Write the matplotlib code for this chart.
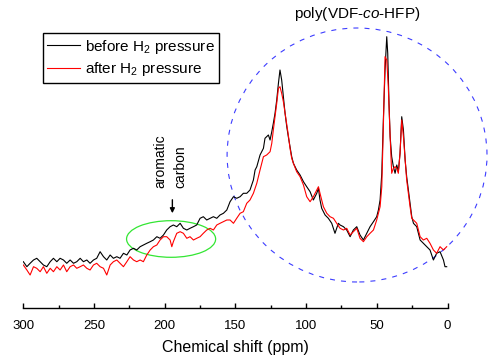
import matplotlib
matplotlib.use("Agg")
from matplotlib import pyplot as plt
from matplotlib import ticker as mticker
from matplotlib.patches import Ellipse

plt.rcParams["font.family"] = ["Liberation Sans", "DejaVu Sans"]
plt.rcParams["mathtext.fontset"] = "custom"
plt.rcParams["mathtext.rm"] = "Liberation Sans"
plt.rcParams["mathtext.it"] = "Liberation Sans:italic"

# before H2 pressure (black)
ppm_before = [
    300.0, 297.5, 295.2, 292.8, 290.5, 288.1, 285.8, 283.4, 281.0, 278.7,
    276.3, 274.0, 271.6, 269.3, 266.9, 264.5, 262.2, 259.8, 257.5, 255.1,
    252.8, 250.4, 248.1, 245.7, 243.3, 241.0, 238.6, 236.3, 233.9, 231.6,
    229.2, 226.8, 224.5, 222.1, 219.8, 217.4, 215.1, 212.7, 210.3, 208.0,
    205.6, 203.3, 200.9, 198.6, 196.2, 193.9, 191.5, 189.1, 186.8, 184.4,
    182.1, 179.7, 177.4, 175.0, 172.7, 170.3, 167.9, 165.6, 163.2, 160.9,
    158.5, 156.1,
    153.8, 151.4, 149.1, 146.7, 144.4, 142.0, 139.7, 137.3, 136.1, 134.9,
    132.6, 130.2, 129.1, 126.7, 125.5, 124.3, 123.2, 122.0, 120.8, 119.6,
    118.5, 117.3, 116.1, 114.9, 113.7, 112.6, 111.4, 110.2, 109.0, 106.7,
    104.3, 101.9, 99.6, 97.2, 94.9, 92.5, 91.3, 90.2, 89.0, 86.6,
    84.3, 81.9, 79.6, 77.2,
    76.0, 73.6, 71.3, 68.9, 66.6, 64.2, 61.9, 59.5, 57.1, 54.8,
    52.4, 50.1, 48.9, 47.7, 46.5, 45.4, 44.2, 43.0, 42.3, 41.4,
    40.6, 39.5, 38.3, 37.1, 35.9, 34.8, 33.6, 32.4, 31.2, 30.0,
    28.9, 27.7, 26.5, 25.3, 24.1, 21.8, 19.4, 17.1, 14.7, 12.4,
    10.0, 7.7, 5.3, 2.9, 1.8, 0.6,
]
int_before = [
    46.8, 41.8, 45.2, 48.5, 50.2, 46.8, 43.5, 41.8, 46.8, 50.2,
    46.8, 50.2, 48.5, 45.2, 48.5, 45.2, 46.8, 50.2, 46.8, 48.5,
    45.2, 48.5, 50.2, 56.8, 51.8, 48.5, 53.5, 50.2, 51.8, 50.2,
    55.2, 53.5, 58.5, 60.2, 58.5, 61.8, 63.5, 65.2, 66.8, 68.5,
    71.8, 70.2, 73.5, 78.5, 81.8, 83.5, 81.8, 85.2, 80.2, 78.5,
    80.2, 81.8, 83.5, 90.2, 91.8, 88.5, 90.2, 91.8, 90.2, 93.5,
    95.2, 98.5,
    106.8, 111.8, 110.2, 111.8, 115.2, 115.2, 118.5, 128.5, 138.5, 141.8,
    153.5, 160.2, 170.2, 173.5, 168.5, 176.8, 185.2, 195.2, 208.5, 225.2,
    238.5, 228.5, 211.8, 195.2, 181.8, 171.8, 161.8, 151.8, 145.2, 138.5,
    133.5, 126.8, 121.8, 116.8, 108.5, 115.2, 120.2, 108.5, 100.2, 93.5,
    90.2, 85.2, 75.2, 85.2,
    83.5, 81.8, 78.5, 71.8, 78.5, 81.8, 73.5, 68.5, 75.2, 81.8,
    86.8, 91.8, 98.5, 108.5, 135.2, 188.5, 238.5, 271.8, 255.2, 205.2,
    171.8, 151.8, 141.8, 135.2, 143.5, 136.8, 155.2, 191.8, 178.5, 148.5,
    131.8, 118.5, 105.2, 91.8, 85.2, 81.8, 68.5, 65.2, 61.8, 58.5,
    48.5, 55.2, 56.8, 48.5, 41.8, 41.8,
]

# after H2 pressure (red)
ppm_after = [
    300.0, 297.5, 295.2, 292.8, 290.5, 288.1, 285.8, 283.4, 281.0, 278.7,
    276.3, 274.0, 271.6, 269.3, 266.9, 264.5, 262.2, 259.8, 257.5, 255.1,
    252.8, 250.4, 248.1, 245.7, 243.3, 241.0, 238.6, 236.3, 233.9, 231.6,
    229.2, 226.8, 224.5, 222.1, 219.8, 217.4, 215.1, 212.7, 210.3, 208.0,
    205.6, 203.3, 200.9, 198.6, 196.2, 195.0, 193.9, 191.5, 189.1, 186.8,
    184.4, 182.1, 179.7, 177.4, 175.0, 172.7, 170.3, 167.9, 165.6, 163.2,
    160.9, 158.5, 156.1,
    153.8, 151.4, 149.1, 146.7, 144.4, 142.0, 139.7, 137.3, 134.9, 132.6,
    130.2, 127.9, 125.5, 124.3, 123.2, 122.0, 120.8, 119.6, 118.5, 117.3,
    116.1, 114.9, 113.7, 112.6, 111.4, 110.2, 109.0, 106.7, 104.3, 101.9,
    99.6, 97.2, 94.9, 92.5, 91.3, 90.2, 87.8, 85.4, 83.1, 80.7,
    78.4,
    76.0, 73.6, 71.3, 68.9, 66.6, 64.2, 61.9, 59.5, 57.1, 54.8,
    52.4, 50.1, 48.9, 47.7, 46.5, 45.4, 44.2, 43.0, 41.9, 40.6,
    39.5, 38.3, 37.1, 35.9, 34.8, 33.6, 32.4, 31.2, 30.0, 28.9,
    27.7, 26.5, 25.3, 24.1, 21.8, 19.4, 17.1, 14.7, 12.4, 10.0,
    7.7, 5.3, 2.9, 0.6,
]
int_after = [
    43.5, 38.5, 33.5, 41.8, 40.2, 36.8, 41.8, 35.2, 40.2, 36.8,
    41.8, 38.5, 43.5, 36.8, 41.8, 43.5, 40.2, 41.8, 43.5, 40.2,
    38.5, 43.5, 45.2, 41.8, 40.2, 33.5, 43.5, 46.8, 48.5, 45.2,
    41.8, 46.8, 51.8, 48.5, 46.8, 48.5, 46.8, 53.5, 58.5, 61.8,
    63.5, 68.5, 71.8, 71.8, 68.5, 61.8, 66.8, 75.2, 76.8, 75.2,
    70.2, 71.8, 68.5, 70.2, 71.8, 75.2, 78.5, 80.2, 78.5, 83.5,
    85.2, 86.8, 88.5,
    88.5, 85.2, 90.2, 95.2, 96.8, 105.2, 108.5, 115.2, 125.2, 138.5,
    151.8, 153.5, 156.8, 165.2, 178.5, 191.8, 205.2, 220.2, 221.8, 215.2,
    206.8, 195.2, 183.5, 173.5, 160.2, 150.2, 145.2, 136.8, 131.8, 123.5,
    111.8, 106.8, 111.8, 118.5, 121.8, 115.2, 101.8, 95.2, 91.8, 90.2,
    85.2,
    80.2, 78.5, 80.2, 73.5, 76.8, 80.2, 70.2, 66.8, 71.8, 75.2,
    78.5, 88.5, 95.2, 101.8, 121.8, 181.8, 251.8, 248.5, 221.8, 171.8,
    135.2, 140.2, 141.8, 140.2, 135.2, 155.2, 188.5, 171.8, 148.5, 128.5,
    115.2, 101.8, 90.2, 88.5, 85.2, 71.8, 68.5, 70.2, 65.2, 58.5,
    55.2, 61.8, 58.5, 61.8,
]

xticks = [300, 250, 200, 150, 100, 50, 0]

fig = plt.figure(figsize=(4.91, 3.62), dpi=100)
ax = fig.add_axes([0.0475, 0.1478, 0.864, 0.8522])

ax.plot(ppm_before, int_before, color="black", lw=0.8, label="before H$_2$ pressure")
ax.plot(ppm_after, int_after, color="#ff0000", lw=0.8, label="after H$_2$ pressure")

ax.set_xlim(300, 0)
ax.set_ylim(0, 308.5)

for s in ["top", "left", "right"]:
    ax.spines[s].set_visible(False)
ax.spines["bottom"].set_linewidth(1.0)
ax.set_yticks([])
ax.xaxis.set_major_locator(mticker.FixedLocator(xticks))
ax.xaxis.set_minor_locator(mticker.MultipleLocator(25))
ax.tick_params(axis="x", which="major", direction="in", length=3.8, width=1.0,
               pad=8, labelsize=9.5)
ax.tick_params(axis="x", which="minor", direction="in", length=2.2, width=1.0)
ax.set_xlabel("Chemical shift (ppm)", fontsize=11.5, labelpad=6)

# circled regions
ax.add_patch(Ellipse((64.0, 153.5), 183.8, 254, fill=False, ec="#3c3cff",
                     lw=0.8, ls=(0, (4.5, 5.5)), clip_on=False))
ax.add_patch(Ellipse((195.5, 69.5), 63, 36.6, fill=False, ec="#33e633", lw=0.9))

ax.text(64.2, 294.5, "poly(VDF-$co$-HFP)", ha="center", va="center", fontsize=11)
ax.text(202.8, 120.5, "aromatic", rotation=90, ha="center", va="bottom", fontsize=10)
ax.text(188.6, 120.5, "carbon", rotation=90, ha="center", va="bottom", fontsize=10)
ax.annotate("", xy=(194.6, 92.5), xytext=(194.6, 111.5),
            arrowprops=dict(arrowstyle="-|>", color="black", lw=1, mutation_scale=7))

leg = ax.legend(loc="upper left", bbox_to_anchor=(0.046, 0.893), borderaxespad=0,
                fontsize=11, handlelength=2.1, handletextpad=0.35,
                labelspacing=0.3, borderpad=0.3, fancybox=False, framealpha=1)
leg.get_frame().set_edgecolor("black")
leg.get_frame().set_linewidth(1.0)

fig.savefig("out.png", dpi=100)
